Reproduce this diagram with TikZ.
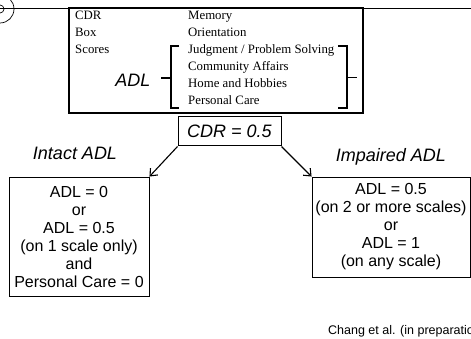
\documentclass[tikz,border=0pt]{standalone}
\usepackage{fontspec}
\setmainfont{Liberation Serif}
\setsansfont{Liberation Sans}
\usetikzlibrary{arrows.meta}
\tikzset{
  serif/.style={font=\fontsize{12.8}{14}\selectfont\rmfamily, anchor=base west, inner sep=0pt},
  bigital/.style={font=\fontsize{18}{20}\selectfont\sffamily\itshape, inner sep=0pt},
  outcome/.style={draw, line width=0.9pt, align=center, inner sep=0pt, font=\fontsize{16}{18}\selectfont\sffamily},
  arr/.style={line width=1.1pt, -{Straight Barb[length=6pt,width=10pt,line width=1.1pt]}},
  brk/.style={line width=1.3pt}
}
\begin{document}
\begin{tikzpicture}[x=1pt,y=-1pt]
\useasboundingbox (0,0) rectangle (471,339);
% corner circles
\draw[line width=0.7pt] (0,9) circle (14);
\draw[line width=0.7pt] (0,9) circle (4);
% top line
\draw[line width=0.8pt] (0,8) -- (471,8);
% top box
\node[draw, line width=1.6pt, minimum width=294pt, minimum height=105pt, inner sep=0pt] (top) at (216,60.5) {};
\node[serif] (t1) at (75,20) {CDR};
\node[serif] (t2) at (75,37) {Box};
\node[serif] (t3) at (75,54) {Scores};
\node[serif] (m1) at (188,20) {Memory};
\node[serif] (m2) at (188,37) {Orientation};
\node[serif] (m3) at (188,54) {Judgment / Problem Solving};
\node[serif] (m4) at (188,71) {Community Affairs};
\node[serif] (m5) at (188,88) {Home and Hobbies};
\node[serif] (m6) at (188,105) {Personal Care};
\node[bigital] (adl) at (133,80) {ADL};
% brackets
\coordinate (lbt) at (179,46);
\coordinate (lbb) at (179,108);
\coordinate (lbm) at (161,78);
\draw[brk] (lbt) -- (171,46) -- (171,108) -- (lbb);
\draw[brk] (171,78) -- (lbm);
\coordinate (rbt) at (338,46);
\coordinate (rbb) at (338,108);
\coordinate (rbm) at (357,77.5);
\draw[brk] (rbt) -- (347,46) -- (347,108) -- (rbb);
\draw[brk] (347,77.5) -- (rbm);
% CDR box
\node[draw, line width=1pt, minimum width=103pt, minimum height=29pt, inner sep=0pt,
      font=\fontsize{18}{20}\selectfont\sffamily\itshape] (cdr) at (229.5,131.5) {CDR = 0.5};
% labels
\node[bigital] (intact) at (75,153) {Intact ADL};
\node[bigital] (impaired) at (391,157) {Impaired ADL};
% outcome boxes
\node[outcome, minimum width=140pt, minimum height=119pt] (left) at (79,236.5)
  {ADL = 0\\or\\ADL = 0.5\\(on 1 scale only)\\and\\Personal Care = 0};
\node[outcome, minimum width=158pt, minimum height=100pt] (right) at (391,227)
  {ADL = 0.5\\(on 2 or more scales)\\or\\ADL = 1\\(on any scale)};
% arrows
\draw[arr] (cdr.south west) -- (left.north east);
\draw[arr] (cdr.south east) -- (right.north west);
% citation
\node[font=\fontsize{12.5}{14}\selectfont\sffamily, anchor=west, inner sep=0pt] (cite) at (328,331) {Chang et al. (in preparation)};
\end{tikzpicture}
\end{document}
